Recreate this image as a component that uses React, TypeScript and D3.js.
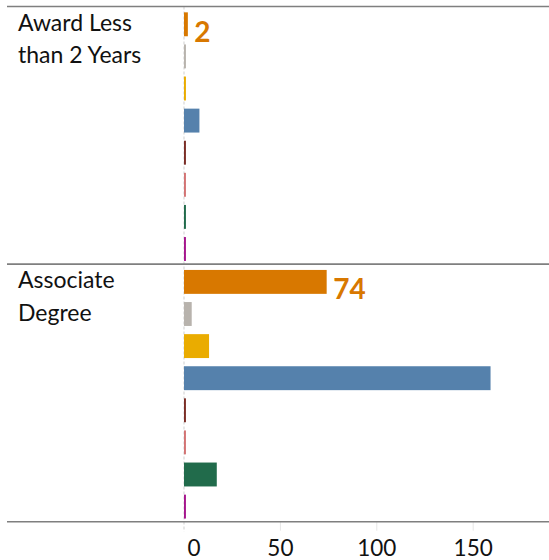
import React from "react";
import * as d3 from "d3";

const groups = ["Award Less than 2 Years", "Associate Degree"];
const groupLines = [["Award Less", "than 2 Years"], ["Associate", "Degree"]];
const series = ["S1", "S2", "S3", "S4", "S5", "S6", "S7", "S8"];
const colors = ["#D87800", "#B8B3AD", "#EAAC00", "#5581AC", "#7B2D26", "#D37373", "#216B4B", "#A5158D"];
const valuesAward = [2, 1, 1, 8, 1, 1, 1, 1];
const valuesAssociate = [74, 4, 13, 159, 1, 1, 17, 1];
const labelled = [2, 74];
const ticks = [0, 50, 100, 150];

const W = 549;
const H = 560;
const FONT = "Lato, 'Open Sans', sans-serif";

export default function App() {
  const x = d3.scaleLinear().domain([0, 50]).range([184, 280.4]);
  const panelTop = 6.5;
  const panelH = 257.6;
  const allValues = [valuesAward, valuesAssociate];
  const lineLeft = 7;
  const bottom = panelTop + panelH * 2;

  return (
    <svg width={W} height={H} style={{ position: "absolute", left: 0, top: 0, background: "#fff" }}
      fontFamily={FONT}>
      {/* zero line */}
      <line x1={x(0)} x2={x(0)} y1={panelTop} y2={bottom + 10} stroke="#cfcfcf" strokeDasharray="3,2" strokeWidth={1} />
      {/* ticks below axis */}
      {ticks.filter((t) => t > 0).map((t) => (
        <line key={t} x1={x(t)} x2={x(t)} y1={bottom} y2={bottom + 9} stroke="#e6e6e6" strokeWidth={1} />
      ))}
      {groups.map((g, gi) => {
        const top = panelTop + gi * panelH;
        const y = d3.scaleBand<string>().domain(series).range([top, top + panelH]).paddingInner(0.255).paddingOuter(0.14).align(0.65);
        const vals = allValues[gi];
        return (
          <g key={g}>
            {groupLines[gi].map((ln, li) => (
              <text key={li} x={18} y={top + 24 + li * 32.5} fontSize={23} fill="#111">{ln}</text>
            ))}
            {series.map((s, si) => (
              <rect key={s} x={x(0)} y={y(s)} width={Math.max(0, x(vals[si]) - x(0))} height={y.bandwidth()} fill={colors[si]} />
            ))}
            <text x={x(labelled[gi]) + 6.5} y={(y(series[0]) as number) + y.bandwidth() / 2 + 17.5}
              fontSize={28} fontWeight={700} fill={colors[0]}>{labelled[gi]}</text>
          </g>
        );
      })}
      {/* horizontal separators */}
      {[0, 1, 2].map((i) => (
        <line key={i} x1={lineLeft} x2={W} y1={panelTop + i * panelH} y2={panelTop + i * panelH} stroke="#7f7f7f" strokeWidth={1.6} />
      ))}
      {ticks.map((t) => (
        <text key={t} x={t === 0 ? x(t) + 10 : x(t)} y={bottom + 34} fontSize={22.5} textAnchor="middle" fill="#111">{t}</text>
      ))}
    </svg>
  );
}
